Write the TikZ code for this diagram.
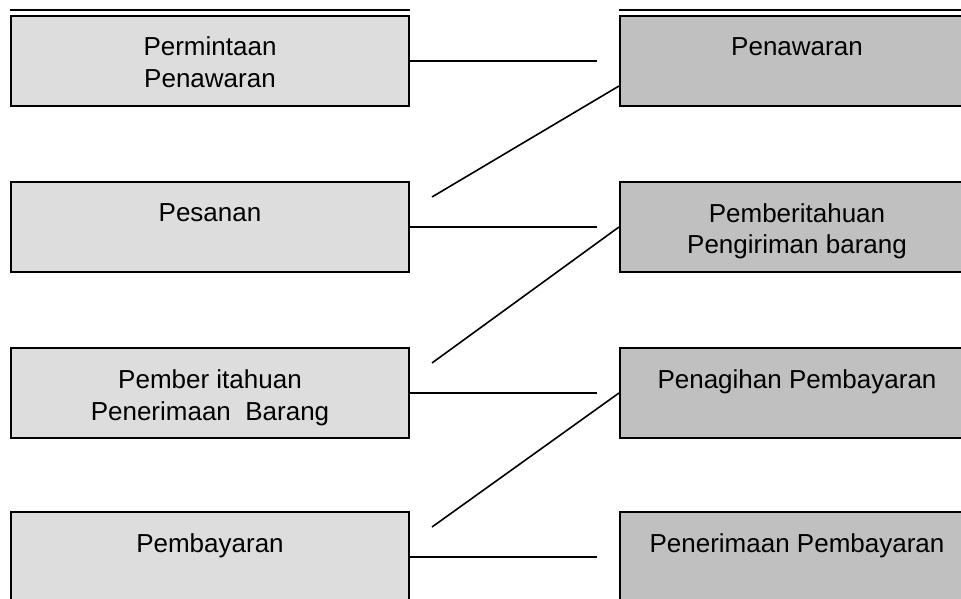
\documentclass[tikz,border=0pt]{standalone}
\usepackage{fontspec}
\setmainfont{Liberation Sans}
\usetikzlibrary{positioning}
\definecolor{abuMuda}{HTML}{DDDDDD}
\definecolor{abuTua}{HTML}{C0C0C0}

\tikzset{
  kiri/.style={draw, line width=1.5pt, fill=abuMuda, anchor=north west,
    minimum width=298.5pt, minimum height=67.5pt, inner sep=0pt},
  kanan/.style={kiri, fill=abuTua, minimum width=265.5pt},
  teks/.style={anchor=base, align=center, inner sep=0pt,
    font=\fontsize{19.5}{24}\selectfont},
  garis/.style={line width=1.2pt}
}

\begin{document}
\begin{tikzpicture}[x=0.75pt,y=-0.75pt]
    % Batas gambar
    \useasboundingbox (0,0) rectangle (961,599);
    % Kotak pembeli (kiri) dan penjual (kanan)
    \foreach \n/\t in {1/15,2/181,3/347,4/511} {
        \node[kiri] (L\n) at (10,\t) {};
        \node[kanan] (R\n) at (619,\t) {};
    }
    % Garis ganda di atas baris pertama
    \draw[line width=1.5pt] ([yshift=3.75pt]L1.north west) -- ([yshift=3.75pt]L1.north east);
    \draw[line width=1.5pt] ([yshift=3.75pt]R1.north west) -- ([yshift=3.75pt]R1.north east);
    % Teks (anchor base = baris terakhir)
    \node[teks] (tL1) at ([yshift=-54.75pt]L1.north) {Permintaan\\Penawaran};
    \node[teks] (tL2) at ([yshift=-30.75pt]L2.north) {Pesanan};
    \node[teks] (tL3) at ([yshift=-54.75pt]L3.north) {Pember itahuan\\Penerimaan~ Barang};
    \node[teks] (tL4) at ([yshift=-30.75pt]L4.north) {Pembayaran};
    \node[teks] (tR1) at ([yshift=-30.75pt]R1.north) {Penawaran};
    \node[teks] (tR2) at ([yshift=-54.75pt]R2.north) {Pemberitahuan\\Pengiriman barang};
    \node[teks] (tR3) at ([yshift=-30.75pt]R3.north) {Penagihan Pembayaran};
    \node[teks] (tR4) at ([yshift=-30.75pt]R4.north) {Penerimaan Pembayaran};
    % Garis mendatar
    \foreach \n in {1,...,4} {
        \coordinate (h\n) at ([xshift=140.25pt]L\n.east);
        \draw[garis] (L\n.east) -- (h\n);
    }
    % Garis miring
    \coordinate (d1) at ([yshift=-18.75pt]R1.west);
    \coordinate (d2) at (R2.west);
    \coordinate (d3) at (R3.west);
    \foreach \a/\b in {1/2,2/3,3/4} {
        \coordinate (e\b) at ([xshift=16.5pt,yshift=-12pt]L\b.north east);
        \draw[garis] (d\a) -- (e\b);
    }
\end{tikzpicture}
\end{document}
